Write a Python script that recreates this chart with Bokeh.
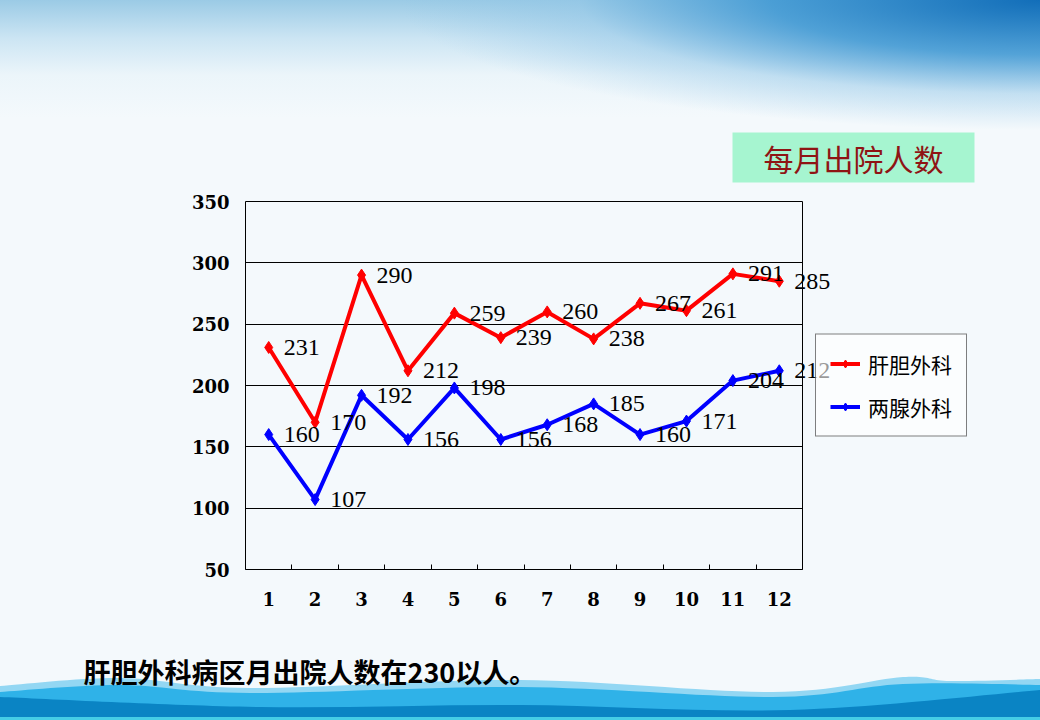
from urllib.parse import quote

from bokeh.plotting import figure
from bokeh.models import (Range1d, FixedTicker, Label, LabelSet, ColumnDataSource,
                          Legend, LegendItem, InlineStyleSheet)
from bokeh.embed import file_html
from bokeh.resources import INLINE

# ---------------- data ----------------
months = [1, 2, 3, 4, 5, 6, 7, 8, 9, 10, 11, 12]
gandan = [231, 170, 290, 212, 259, 239, 260, 238, 267, 261, 291, 285]      # 肝胆外科
liangxian = [160, 107, 192, 156, 198, 156, 168, 185, 160, 171, 204, 212]   # 两腺外科
series_names = ["肝胆外科", "两腺外科"]
series_colors = ["#ff0000", "#0000ff"]
y_ticks = [50, 100, 150, 200, 250, 300, 350]
x_tick_labels = [str(m) for m in months]
chart_title = "每月出院人数"
note_text = "肝胆外科病区月出院人数在230以人。"

# ---------------- background (decoration) ----------------
def smooth_path(pts, bottom):
    d = f"M{pts[0][0]},{pts[0][1]}"
    for i in range(len(pts) - 1):
        p0 = pts[i - 1] if i > 0 else pts[i]
        p1, p2 = pts[i], pts[i + 1]
        p3 = pts[i + 2] if i + 2 < len(pts) else p2
        c1 = (p1[0] + (p2[0] - p0[0]) / 6, p1[1] + (p2[1] - p0[1]) / 6)
        c2 = (p2[0] - (p3[0] - p1[0]) / 6, p2[1] - (p3[1] - p1[1]) / 6)
        d += f" C{c1[0]:.1f},{c1[1]:.1f} {c2[0]:.1f},{c2[1]:.1f} {p2[0]},{p2[1]}"
    d += f" L{pts[-1][0]},{bottom} L{pts[0][0]},{bottom} Z"
    return d

# wave band covers page y 672..720 (viewBox y 0..48)
pale = [(0, 14), (120, 6), (250, 16), (520, 8), (773, 20), (903, 5), (950, 9), (1040, 7)]
mid = [(0, 20), (120, 13), (250, 21), (520, 15), (773, 25), (903, 12), (1040, 13)]
dark = [(0, 25), (260, 35), (520, 33), (790, 38), (1040, 18)]
svg = ('<svg xmlns="http://www.w3.org/2000/svg" viewBox="0 0 1040 48" preserveAspectRatio="none">'
       f'<path d="{smooth_path(pale, 48)}" fill="#93d7f3"/>'
       f'<path d="{smooth_path(mid, 48)}" fill="#2fb2e8"/>'
       f'<path d="{smooth_path(dark, 48)}" fill="#0a84c4"/>'
       '<rect x="0" y="45" width="1040" height="3" fill="#45cde6"/>'
       '</svg>')
wave_uri = "data:image/svg+xml," + quote(svg)

css = f"""
:host {{
  background:
    url("{wave_uri}") 0px 672px / 1040px 48px no-repeat,
    radial-gradient(ellipse 640px 130px at 1040px 0px, rgba(18,110,185,1) 0%, rgba(60,150,210,0.85) 42%, rgba(140,195,230,0.45) 72%, rgba(255,255,255,0) 100%) 0px 0px / 1040px 200px no-repeat,
    linear-gradient(to bottom, rgba(150,200,228,0.95) 0px, rgba(190,222,240,0.75) 38px, rgba(225,240,248,0.45) 75px, rgba(245,250,253,0) 118px) 0px 0px / 1040px 200px no-repeat,
    #f4f9fc;
}}
"""

# ---------------- figure ----------------
p = figure(frame_width=557, frame_height=368,
           x_range=Range1d(0.5, 12.5), y_range=Range1d(50, 350),
           output_backend="svg", toolbar_location=None,
           min_border_left=245, min_border_right=238,
           min_border_top=201, min_border_bottom=151)
p.stylesheets = [InlineStyleSheet(css=css)]
p.background_fill_alpha = 0
p.border_fill_alpha = 0
p.outline_line_color = "black"
p.outline_line_width = 1

# axes
p.xaxis.ticker = FixedTicker(ticks=months, minor_ticks=[m + 0.5 for m in months[:-1]])
p.xaxis.major_label_overrides = {m: lab for m, lab in zip(months, x_tick_labels)}
p.xaxis.major_tick_line_color = None
p.xaxis.minor_tick_in = 5
p.xaxis.minor_tick_out = 0
p.xaxis.minor_tick_line_color = "black"
p.xaxis.axis_line_color = "black"
p.xaxis.major_label_standoff = 16

p.yaxis.ticker = FixedTicker(ticks=y_ticks)
p.yaxis.major_tick_line_color = None
p.yaxis.minor_tick_line_color = None
p.yaxis.axis_line_color = None
p.yaxis.major_label_standoff = 10

for ax in (p.xaxis, p.yaxis):
    ax.major_label_text_font = "DejaVu Serif"
    ax.major_label_text_font_style = "bold"
    ax.major_label_text_font_size = "18px"
    ax.major_label_text_color = "black"

p.xgrid.grid_line_color = None
p.ygrid.grid_line_color = "black"
p.ygrid.grid_line_width = 1

label_style = dict(text_baseline="middle", text_align="left",
                   text_font="Liberation Serif", text_font_size="24px",
                   text_color="black")

# title box (side panel, so it is not clipped to the frame)
p.add_layout(Label(x=608, y=44, x_units="screen", y_units="screen",
                   text=chart_title, text_align="center", text_baseline="middle",
                   text_font="Noto Sans CJK SC", text_font_size="30px",
                   text_color="#8f1414", background_fill_color="#a6f5d0",
                   padding=(31, 3)), "above")

# series
items = []
for name, vals, col in zip(series_names, [gandan, liangxian], series_colors):
    src = ColumnDataSource(dict(x=months, y=vals, t=[str(v) for v in vals]))
    lr = p.line("x", "y", source=src, line_color=col, line_width=4)
    sr = p.scatter("x", "y", source=src, marker="diamond", size=12,
                   fill_color=col, line_color=col)
    inner = ColumnDataSource(dict(x=months[:-1], y=vals[:-1], t=[str(v) for v in vals[:-1]]))
    p.add_layout(LabelSet(x="x", y="y", text="t", source=inner, x_offset=15, **label_style))
    # the last value's label reaches past the frame: draw it from a side panel
    p.add_layout(Label(x=months[-1], y=vals[-1], text=str(vals[-1]), x_offset=15,
                       **label_style), "above")
    items.append(LegendItem(label=name, renderers=[lr, sr]))

legend = Legend(items=items, location="center_left", margin=13,
                border_line_color="black", border_line_width=1,
                background_fill_color="white", background_fill_alpha=0.6,
                label_text_font="Noto Sans CJK SC", label_text_font_size="21px",
                label_text_color="black",
                glyph_width=30, glyph_height=20, label_height=20,
                label_standoff=8, padding=14, spacing=13)
p.add_layout(legend, "right")

# bottom note
p.add_layout(Label(x=-162, y=-24, x_units="screen", y_units="screen", text=note_text,
                   text_align="left", text_baseline="middle",
                   text_font="Noto Sans CJK SC", text_font_style="bold",
                   text_font_size="27px", text_color="black"), "below")

open("out.html", "w").write(file_html(p, INLINE))
